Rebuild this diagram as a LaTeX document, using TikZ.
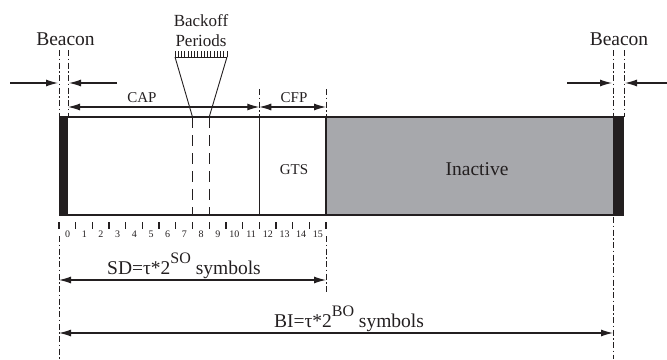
\documentclass[tikz,border=0pt]{standalone}
\usepackage{fontspec}
\setmainfont{Liberation Serif}
\usetikzlibrary{arrows.meta,calc}
\definecolor{inkblack}{RGB}{35,31,32}
\definecolor{idlegray}{RGB}{167,168,172}
\begin{document}
\begin{tikzpicture}[x=1pt,y=-1pt,
  dashdot/.style={line width=1pt, inkblack, dash pattern=on 6pt off 2.5pt on 1.5pt off 2.5pt},
  dimline/.style={line width=1.1pt, inkblack, {Latex[length=12pt,width=7pt]}-{Latex[length=12pt,width=7pt]}},
  pointer/.style={line width=1.1pt, inkblack, -{Latex[length=12pt,width=7pt]}},
  frame/.style={line width=1.3pt, inkblack},
  slotdash/.style={line width=1.1pt, inkblack, dash pattern=on 11pt off 7pt},
  biglbl/.style={font=\fontsize{19.5}{19.5}\selectfont, inner sep=0pt, text=inkblack},
  midlbl/.style={font=\fontsize{17}{17}\selectfont, inner sep=0pt, text=inkblack},
  smalllbl/.style={font=\fontsize{15}{15}\selectfont, inner sep=0pt, text=inkblack},
  numlbl/.style={font=\fontsize{10}{10}\selectfont, inner sep=0pt, text=inkblack}]

\useasboundingbox (0,0) rectangle (667,359);

% ---- superframe body ----
\fill[idlegray] (326,117) rectangle (613,215);
\fill[inkblack] (59,117) rectangle (68,215);
\fill[inkblack] (613,117) rectangle (624,215);
\draw[frame] (59,117) -- (624,117);
\draw[frame] (59,215) -- (624,215);
\draw[frame] (259.25,117) -- (259.25,215);
\draw[frame] (326,117) -- (326,215);

\node[smalllbl] (gts) at (294,170) {GTS};
\node[biglbl] (inactive) at (477,169) {Inactive};

% ---- slot boundaries 8 and 9 (zoomed backoff periods) ----
\coordinate (s8) at (192.5,117);
\coordinate (s9) at (209.2,117);
\draw[slotdash] (s8) -- (192.5,215);
\draw[slotdash] (s9) -- (209.2,215);

% comb of backoff periods
\coordinate (combL) at (175,57);
\coordinate (combR) at (227,57);
\draw[line width=0.9pt, inkblack] (s8) -- (combL);
\draw[line width=0.9pt, inkblack] (s9) -- (combR);
\draw[line width=0.9pt, inkblack] (combL) -- (combR);
\foreach \i in {0,...,16}
  \draw[line width=0.7pt, inkblack] ($(combL)+(\i*3.25,0)$) -- ++(0,-6);
\node[midlbl, anchor=base] (backoff) at (201,26.5) {Backoff};
\node[midlbl, anchor=base] (periods) at (201,46) {Periods};

% ---- slot ticks and numbers ----
\foreach \k in {0,...,16}
  \draw[line width=1.3pt, inkblack] (59+16.6875*\k,222) -- (59+16.6875*\k,229);
\foreach \k in {0,...,15}
  \node[numlbl, anchor=base] (n\k) at (67.6+16.6875*\k,237.5) {\k};

% ---- left beacon marks ----
\node[biglbl, anchor=base] (beaconL) at (65.5,45) {Beacon};
\coordinate (bl1t) at (59,50);
\coordinate (bl2t) at (68,50);
\draw[dashdot] (bl1t) -- (59,117);
\draw[dashdot] (bl2t) -- (68,117);
\coordinate (la1) at (10,83);
\coordinate (la2) at (117,83);
\draw[pointer] (la1) -- (58,83);
\draw[pointer] (la2) -- (69,83);

% ---- right beacon marks ----
\node[biglbl, anchor=base] (beaconR) at (619,45) {Beacon};
\draw[dashdot] (613,50) -- (613,117);
\draw[dashdot] (624,50) -- (624,117);
\coordinate (ra1) at (567,83);
\coordinate (ra2) at (667,83);
\draw[pointer] (ra1) -- (612,83);
\draw[pointer] (ra2) -- (625,83);

% ---- CAP / CFP ----
\draw[dashdot] (259.25,89) -- (259.25,117);
\draw[dashdot] (326,89) -- (326,117);
\coordinate (capL) at (68,107);
\coordinate (capR) at (259.25,107);
\coordinate (cfpR) at (326,107);
\draw[dimline] (capL) -- (capR);
\draw[dimline] (capR) -- (cfpR);
\node[smalllbl, anchor=base] (cap) at (142,102) {CAP};
\node[smalllbl, anchor=base] (cfp) at (294,102) {CFP};

% ---- SD and BI ----
\draw[dashdot] (59,236) -- (59,359);
\draw[dashdot] (326,236) -- (326,292);
\draw[dashdot] (613,217) -- (613,359);
\coordinate (sdL) at (59,280);
\coordinate (sdR) at (326,280);
\coordinate (biL) at (59,333);
\coordinate (biR) at (613,333);
\draw[dimline] (sdL) -- (sdR);
\draw[dimline] (biL) -- (biR);
\node[biglbl, anchor=base] (sd) at (184,274)
  {SD=τ*2\raisebox{0.55em}{\fontsize{16}{16}\selectfont SO} symbols};
\node[biglbl, anchor=base] (bi) at (349,327)
  {BI=τ*2\raisebox{0.55em}{\fontsize{16}{16}\selectfont BO} symbols};

\end{tikzpicture}
\end{document}
